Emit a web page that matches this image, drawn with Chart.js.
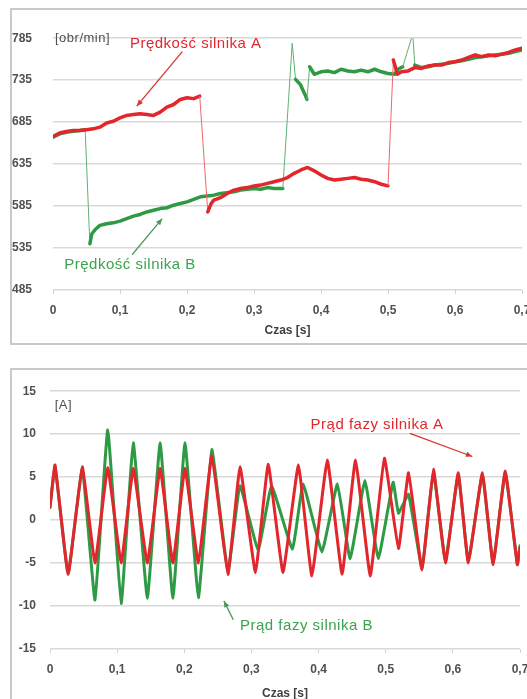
<!DOCTYPE html>
<html>
<head>
<meta charset="utf-8">
<script src="https://cdn.jsdelivr.net/npm/chart.js@4.4.1/dist/chart.umd.min.js"></script>
<style>
  html, body { margin: 0; padding: 0; background: #fff; overflow: hidden; }
  .frame { position: absolute; left: 10px; width: 540px; border: 2px solid #c9c9c9; background: #fff; }
  #topFrame { top: 8px; height: 333px; }
  #bottomFrame { top: 368px; height: 340px; }
  canvas { display: block; }
</style>
</head>
<body>
<div class="frame" id="topFrame"><canvas id="speedChart" width="540" height="333"></canvas></div>
<div class="frame" id="bottomFrame"><canvas id="currentChart" width="540" height="340"></canvas></div>
<script>
// time axis ticks [s]
const timeTicks = [0, 0.1, 0.2, 0.3, 0.4, 0.5, 0.6, 0.7];
const speedTicks = [485, 535, 585, 635, 685, 735, 785];
const currentTicks = [-15, -10, -5, 0, 5, 10, 15];

// Prędkość silnika A [obr/min]
const speedATime = [0, 0.01, 0.02, 0.03, 0.04, 0.05, 0.06, 0.07, 0.08, 0.09, 0.1, 0.11, 0.12, 0.13, 0.14, 0.15, 0.16, 0.17, 0.18, 0.19, 0.2, 0.21, 0.219,
  0.231, 0.236, 0.24, 0.25, 0.26, 0.27, 0.28, 0.29, 0.3, 0.31, 0.32, 0.33, 0.34, 0.35, 0.36, 0.37, 0.38, 0.39, 0.4, 0.41, 0.42, 0.43, 0.44, 0.45, 0.46, 0.47, 0.48, 0.49, 0.5,
  0.508, 0.514, 0.52, 0.53, 0.54, 0.55, 0.56, 0.57, 0.58, 0.59, 0.6, 0.61, 0.62, 0.63, 0.64, 0.65, 0.66, 0.67, 0.68, 0.69, 0.7];
const speedA = [668, 672, 674, 675, 675, 676, 677, 679, 684, 686, 690, 693, 694, 695, 694, 693, 697, 703, 706, 712, 714, 713, 716,
  578, 588, 592, 595, 600, 604, 606, 607, 609, 610, 612, 614, 616, 619, 624, 628, 631, 627, 622, 618, 616, 617, 618, 619, 617, 616, 614, 611, 609,
  759, 742, 745, 746, 750, 749, 752, 753, 753, 756, 757, 759, 762, 765, 763, 765, 764, 766, 768, 771, 773];

// Prędkość silnika B [obr/min]
const speedBTime = [0, 0.01, 0.02, 0.03, 0.04, 0.048, 0.055, 0.058, 0.063, 0.07, 0.08, 0.09, 0.1, 0.11, 0.12, 0.13, 0.14, 0.15, 0.16, 0.17, 0.18, 0.19, 0.2,
  0.21, 0.22, 0.23, 0.24, 0.25, 0.26, 0.27, 0.28, 0.29, 0.3, 0.31, 0.32, 0.33, 0.343, 0.357, 0.362, 0.369, 0.376, 0.379, 0.383, 0.39,
  0.4, 0.41, 0.42, 0.43, 0.44, 0.45, 0.46, 0.47, 0.48, 0.49, 0.5, 0.51, 0.515, 0.522, 0.537, 0.54,
  0.55, 0.56, 0.57, 0.58, 0.59, 0.6, 0.61, 0.62, 0.63, 0.64, 0.65, 0.66, 0.67, 0.68, 0.69, 0.7];
const speedB = [667, 671, 673, 674, 675, 676, 540, 552, 557, 562, 564, 565, 567, 570, 573, 575, 578, 580, 582, 583, 586, 588, 590,
  593, 596, 597, 598, 600, 601, 602, 604, 605, 606, 605, 607, 606, 606, 779, 736, 730, 718, 712, 751, 742,
  745, 746, 744, 748, 746, 745, 747, 745, 748, 745, 743, 742, 748, 751, 790, 753,
  750, 751, 753, 754, 755, 757, 758, 760, 762, 763, 764, 765, 766, 767, 769, 771];

// Prąd fazy silnika A [A]
const currentATime = [0, 0.0075, 0.027, 0.048, 0.067, 0.086, 0.106, 0.124, 0.145, 0.164, 0.183, 0.201, 0.221, 0.241, 0.265, 0.283, 0.306, 0.325, 0.347,
  0.37, 0.39, 0.413, 0.435, 0.455, 0.477, 0.498, 0.519, 0.534, 0.554, 0.571, 0.589, 0.608, 0.623, 0.644, 0.66, 0.678, 0.696, 0.7];
const currentA = [1.5, 6.4, -6.3, 6.2, -5.0, 6.1, -5.0, 6.0, -5.0, 6.0, -5.0, 6.0, -5.0, 7.5, -6.3, 6.2, -6.1, 6.5, -6.1,
  6.4, -6.5, 7.0, -6.3, 7.0, -6.5, 7.2, -3.3, 5.5, -5.8, 5.9, -5.0, 5.5, -5.0, 5.5, -5.2, 5.7, -5.2, -3.2];

// Prąd fazy silnika B [A]
const currentBTime = [0, 0.0075, 0.027, 0.048, 0.067, 0.086, 0.106, 0.124, 0.145, 0.164, 0.183, 0.201, 0.221, 0.241, 0.265, 0.283, 0.31, 0.33, 0.361,
  0.377, 0.405, 0.428, 0.447, 0.469, 0.489, 0.511, 0.519, 0.534, 0.554, 0.571, 0.589, 0.608, 0.623, 0.644, 0.66, 0.678, 0.696, 0.7];
const currentB = [1.5, 6.2, -6.3, 6.0, -9.3, 10.5, -9.7, 9.0, -9.1, 9.0, -9.1, 9.0, -9.0, 8.2, -6.0, 4.0, -3.5, 4.0, -3.4,
  4.2, -3.7, 4.2, -4.5, 4.6, -4.5, 4.4, 0.8, 3.0, -5.6, 5.6, -4.8, 5.3, -4.8, 5.3, -5.0, 5.5, -5.0, -3.0];

const RED = '#e2262c';
const GREEN = '#2f9a45';
const AXIS_FONT = { family: 'Liberation Sans, Arial, sans-serif', size: 12, weight: 'bold' };
const NOTE_FONT = '15px "Liberation Sans", Arial, sans-serif';
const UNIT_FONT = '13px "Liberation Sans", Arial, sans-serif';

function toPoints(xs, ys) {
  return xs.map((x, i) => ({ x: x, y: ys[i] }));
}

// text labels and arrows, given in data units
const notesPlugin = {
  id: 'notes',
  afterDatasetsDraw(chart, args, opts) {
    const ctx = chart.ctx;
    const sx = chart.scales.x, sy = chart.scales.y;
    ctx.save();
    (opts.arrows || []).forEach(a => {
      const x0 = sx.getPixelForValue(a.x0), y0 = sy.getPixelForValue(a.y0);
      const x1 = sx.getPixelForValue(a.x1), y1 = sy.getPixelForValue(a.y1);
      const ang = Math.atan2(y1 - y0, x1 - x0);
      ctx.strokeStyle = a.color;
      ctx.fillStyle = a.color;
      ctx.lineWidth = 1.3;
      ctx.beginPath();
      ctx.moveTo(x0, y0);
      ctx.lineTo(x1, y1);
      ctx.stroke();
      ctx.beginPath();
      ctx.moveTo(x1, y1);
      ctx.lineTo(x1 - 7 * Math.cos(ang - 0.4), y1 - 7 * Math.sin(ang - 0.4));
      ctx.lineTo(x1 - 7 * Math.cos(ang + 0.4), y1 - 7 * Math.sin(ang + 0.4));
      ctx.closePath();
      ctx.fill();
    });
    (opts.notes || []).forEach(n => {
      ctx.font = n.font || NOTE_FONT;
      ctx.letterSpacing = n.spacing || '0.5px';
      ctx.fillStyle = n.color;
      ctx.textAlign = n.align || 'left';
      ctx.textBaseline = 'middle';
      ctx.fillText(n.text, sx.getPixelForValue(n.x), sy.getPixelForValue(n.y));
    });
    ctx.restore();
  }
};

function timeAxis(height, titlePad) {
  return {
    type: 'linear',
    min: 0,
    max: 0.7,
    afterBuildTicks: s => { s.ticks = timeTicks.map(v => ({ value: v })); },
    afterFit: s => { s.height = height; },
    grid: { drawOnChartArea: false, drawTicks: true, tickLength: 4, color: '#d4d4d4' },
    border: { display: false },
    ticks: {
      padding: 9,
      color: '#505050',
      font: AXIS_FONT,
      callback: v => v === 0 ? '0' : v.toFixed(1).replace('.', ',')
    },
    title: {
      display: true,
      text: 'Czas [s]',
      color: '#404040',
      font: AXIS_FONT,
      padding: { top: 0, bottom: titlePad }
    }
  };
}

function valueAxis(min, max, list, width, pad) {
  return {
    min: min,
    max: max,
    afterBuildTicks: s => { s.ticks = list.map(v => ({ value: v })); },
    afterFit: s => { s.width = width; },
    grid: { drawTicks: false, color: '#d9d9d9', lineWidth: 1.5 },
    border: { display: false },
    ticks: { padding: pad, color: '#505050', font: AXIS_FONT }
  };
}

Chart.defaults.animation = false;
Chart.defaults.font.family = 'Liberation Sans, Arial, sans-serif';
Chart.defaults.elements.line.borderJoinStyle = 'round';
Chart.defaults.elements.line.borderCapStyle = 'round';

const thin = (c, big, wide) => Math.abs(c.p1.parsed.y - c.p0.parsed.y) > big ? 1 : wide;

new Chart(document.getElementById('speedChart'), {
  type: 'line',
  data: {
    datasets: [
      {
        label: 'Prędkość silnika A',
        data: toPoints(speedATime, speedA),
        borderColor: RED,
        borderWidth: 3.5,
        pointRadius: 0,
        segment: {
          borderWidth: c => thin(c, 25, 3.5),
          borderColor: c => thin(c, 25, 3.5) === 1 ? '#e86a6a' : undefined
        }
      },
      {
        label: 'Prędkość silnika B',
        data: toPoints(speedBTime, speedB),
        borderColor: GREEN,
        borderWidth: 3.5,
        pointRadius: 0,
        segment: {
          borderWidth: c => thin(c, 25, 3.5),
          borderColor: c => thin(c, 25, 3.5) === 1 ? '#62b070' : undefined
        }
      }
    ]
  },
  options: {
    responsive: false,
    layout: { padding: { top: 23, right: 30, bottom: 0, left: 0 } },
    plugins: {
      legend: { display: false },
      tooltip: { enabled: false },
      notes: {
        notes: [
          { text: '[obr/min]', x: 0.003, y: 785, color: '#505050', font: UNIT_FONT },
          { text: 'Prędkość silnika A', x: 0.213, y: 778, color: RED, align: 'center' },
          { text: 'Prędkość silnika B', x: 0.115, y: 515, color: '#3aa34f', align: 'center' }
        ],
        arrows: [
          { x0: 0.193, y0: 769, x1: 0.125, y1: 704, color: '#d9342f' },
          { x0: 0.118, y0: 527, x1: 0.163, y1: 570, color: '#4a9a5a' }
        ]
      }
    },
    scales: {
      x: timeAxis(53, 5),
      y: valueAxis(485, 785, speedTicks, 41, 21)
    }
  },
  plugins: [notesPlugin]
});

new Chart(document.getElementById('currentChart'), {
  type: 'line',
  data: {
    datasets: [
      {
        label: 'Prąd fazy silnika A',
        data: toPoints(currentATime, currentA),
        borderColor: RED,
        borderWidth: 3,
        tension: 0.1,
        pointRadius: 0
      },
      {
        label: 'Prąd fazy silnika B',
        data: toPoints(currentBTime, currentB),
        borderColor: GREEN,
        borderWidth: 3,
        tension: 0.1,
        pointRadius: 0
      }
    ]
  },
  options: {
    responsive: false,
    layout: { padding: { top: 8, right: 32, bottom: 0, left: 0 } },
    plugins: {
      legend: { display: false },
      tooltip: { enabled: false },
      notes: {
        notes: [
          { text: '[A]', x: 0.007, y: 13.4, color: '#505050', font: UNIT_FONT },
          { text: 'Prąd fazy silnika A', x: 0.487, y: 11.1, color: RED, align: 'center' },
          { text: 'Prąd fazy silnika B', x: 0.283, y: -12.3, color: '#3aa34f' }
        ],
        arrows: [
          { x0: 0.536, y0: 10.1, x1: 0.629, y1: 7.4, color: '#d9342f' },
          { x0: 0.273, y0: -11.6, x1: 0.259, y1: -9.4, color: '#4a9a5a' }
        ]
      }
    },
    scales: {
      x: timeAxis(61, 9),
      y: valueAxis(-15, 15, currentTicks, 38, 14)
    }
  },
  plugins: [notesPlugin]
});
</script>
</body>
</html>
